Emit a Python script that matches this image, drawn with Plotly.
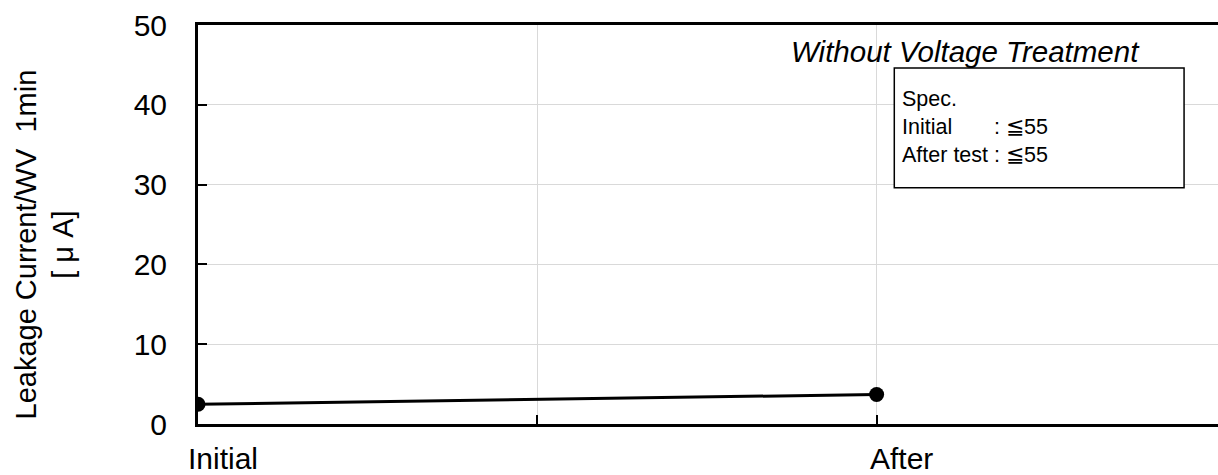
import plotly.graph_objects as go

categories = ["Initial", "After"]
x_pos = [0, 1]
leakage = [2.47, 3.7]

y_ticks = [0, 10, 20, 30, 40, 50]
x_ticks = [0, 0.5, 1]
x_ticktext = ["Initial", "", "After"]

FONT = "Liberation Sans, Arial, sans-serif"

fig = go.Figure()
fig.add_trace(go.Scatter(
    x=x_pos, y=leakage, mode="lines+markers",
    line=dict(color="black", width=3),
    marker=dict(color="black", size=15),
    showlegend=False, hoverinfo="skip",
))

fig.update_layout(
    width=1218, height=475,
    margin=dict(l=198, r=0, t=25, b=51),
    paper_bgcolor="white", plot_bgcolor="white",
    font=dict(family=FONT, color="black", size=30),
    xaxis=dict(
        range=[0, 1.503], tickvals=x_ticks, ticktext=x_ticktext,
        showline=True, linecolor="black", linewidth=3, mirror=True,
        ticks="inside", ticklen=9, tickwidth=2, tickcolor="black",
        showgrid=True, gridcolor="#d9d9d9", gridwidth=1,
        zeroline=False, tickfont=dict(size=30),
        ticklabelshift=25, ticklabelstandoff=6,
    ),
    yaxis=dict(
        range=[0, 50], tickvals=y_ticks,
        showline=True, linecolor="black", linewidth=3, mirror=False,
        ticks="inside", ticklen=9, tickwidth=2, tickcolor="black",
        showgrid=True, gridcolor="#d9d9d9", gridwidth=1,
        zeroline=False, tickfont=dict(size=30),
        ticklabelstandoff=22,
    ),
)

# y-axis title
fig.add_annotation(
    xref="paper", yref="paper", x=0, y=0.5, xshift=-154, yshift=-20,
    text="Leakage Current/WV  1min<br>[ μ A]", textangle=-90,
    showarrow=False, font=dict(size=29, family=FONT),
    xanchor="center", yanchor="middle",
)

# condition label
fig.add_annotation(
    xref="x", yref="y", x=1.131, y=46.7,
    text="<i>Without Voltage Treatment</i>", showarrow=False,
    font=dict(size=29.5, family=FONT), xanchor="center", yanchor="middle",
)

# spec box
fig.add_shape(
    type="rect", xref="x", yref="y", x0=1.026, x1=1.453, y0=29.6, y1=44.6,
    line=dict(color="black", width=1.5), fillcolor="white", layer="above",
)
sp = "\u00a0"
fig.add_annotation(
    xref="x", yref="y", x=1.035, y=37.2,
    text=f"Spec.<br>Initial{sp*7}: ≦55<br>After{sp}test{sp}: ≦55",
    showarrow=False, align="left", xanchor="left", yanchor="middle",
    font=dict(size=21.5, family=FONT),
)

fig.write_html(
    "out.html",
    config={"displayModeBar": False},
    post_script="document.body.style.margin='0';document.body.style.overflow='hidden';",
)
